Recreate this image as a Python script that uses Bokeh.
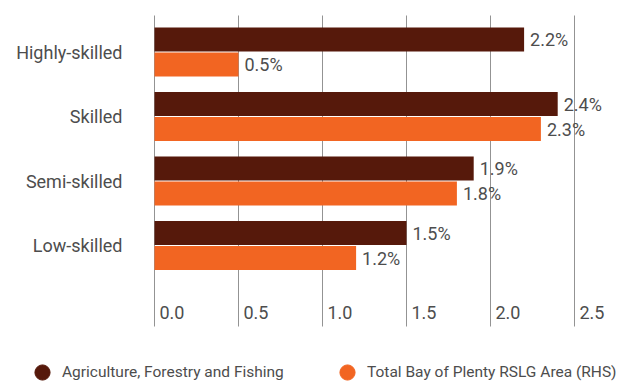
from bokeh.plotting import figure
from bokeh.models import ColumnDataSource, Range1d, Legend, LegendItem
from bokeh.core.properties import value
from bokeh.embed import file_html
from bokeh.resources import INLINE

categories = ["Highly-skilled", "Skilled", "Semi-skilled", "Low-skilled"]
agri = [2.2, 2.4, 1.9, 1.5]
total = [0.5, 2.3, 1.8, 1.2]
x_ticks = [0.0, 0.5, 1.0, 1.5, 2.0, 2.5]
series_names = ["Agriculture, Forestry and Fishing", "Total Bay of Plenty RSLG Area (RHS)"]

DARK = "#56190b"
ORANGE = "#f26522"
TXT = "#4d4d4d"
GRID = "#939393"
FONT = value("Roboto")
FS = "18px"

W, H = 618, 382
XPX = 168.0      # pixels per x unit
YPX = 64.5       # pixels per category
LEFT = 154       # px from left edge to x=0

n = len(categories)
ypos = [n - i for i in range(n)]
off = 12.5 / YPX
bh = 24 / YPX

y_end = n + 51.5 / YPX
y_start = y_end - H / YPX
grid_top = y_end - 15 / YPX
grid_bot = y_end - 326 / YPX

src_a = ColumnDataSource(dict(y=[v + off for v in ypos], x=agri,
                              lab=[f"{v:.1f}%" for v in agri]))
src_t = ColumnDataSource(dict(y=[v - off for v in ypos], x=total,
                              lab=[f"{v:.1f}%" for v in total]))

p = figure(width=W, height=H, output_backend="svg", toolbar_location=None,
           x_range=Range1d(-LEFT / XPX, (W - LEFT) / XPX), y_range=Range1d(y_start, y_end),
           min_border=0)
p.outline_line_color = None
p.axis.visible = False
p.grid.visible = False
p.background_fill_color = "white"
p.border_fill_color = "white"

# grid lines at the x ticks
p.segment(x0=x_ticks, x1=x_ticks, y0=grid_bot, y1=grid_top, line_color=GRID,
          line_width=1, level="underlay")

p.hbar(y="y", right="x", left=0, height=bh, source=src_a, color=DARK, line_color=None)
p.hbar(y="y", right="x", left=0, height=bh, source=src_t, color=ORANGE, line_color=None)

for s in (src_a, src_t):
    p.text(x="x", y="y", text="lab", source=s, x_offset=6, text_baseline="middle",
           text_align="left", text_font=FONT, text_font_size=FS, text_color=TXT)

# category labels
p.text(x=0, y=ypos, text=categories, x_offset=-32, text_baseline="middle",
       text_align="right", text_font=FONT, text_font_size=FS, text_color=TXT)

# x tick labels inside the plot
p.text(x=x_ticks, y=grid_bot, text=[f"{v:.1f}" for v in x_ticks], x_offset=5, y_offset=-14,
       text_baseline="alphabetic", text_align="left", text_font=FONT,
       text_font_size=FS, text_color=TXT)

# legend
d1 = p.scatter(x="x", y="y", source=src_a, marker="circle", size=16, color=DARK, visible=False)
d2 = p.scatter(x="x", y="y", source=src_t, marker="circle", size=16, color=ORANGE, visible=False)

for rend, name, lx in ((d1, series_names[0], 23), (d2, series_names[1], 328)):
    lg = Legend(items=[LegendItem(label=name, renderers=[rend])], location=(lx, -9),
                orientation="horizontal", glyph_width=38, glyph_height=38,
                label_standoff=1, padding=0, margin=0, spacing=0,
                label_text_font="Roboto", label_text_font_size="15.5px",
                label_text_color=TXT, border_line_color=None,
                background_fill_alpha=0, inactive_fill_alpha=0)
    p.add_layout(lg, "center")

open("out.html", "w").write(file_html(p, INLINE))
